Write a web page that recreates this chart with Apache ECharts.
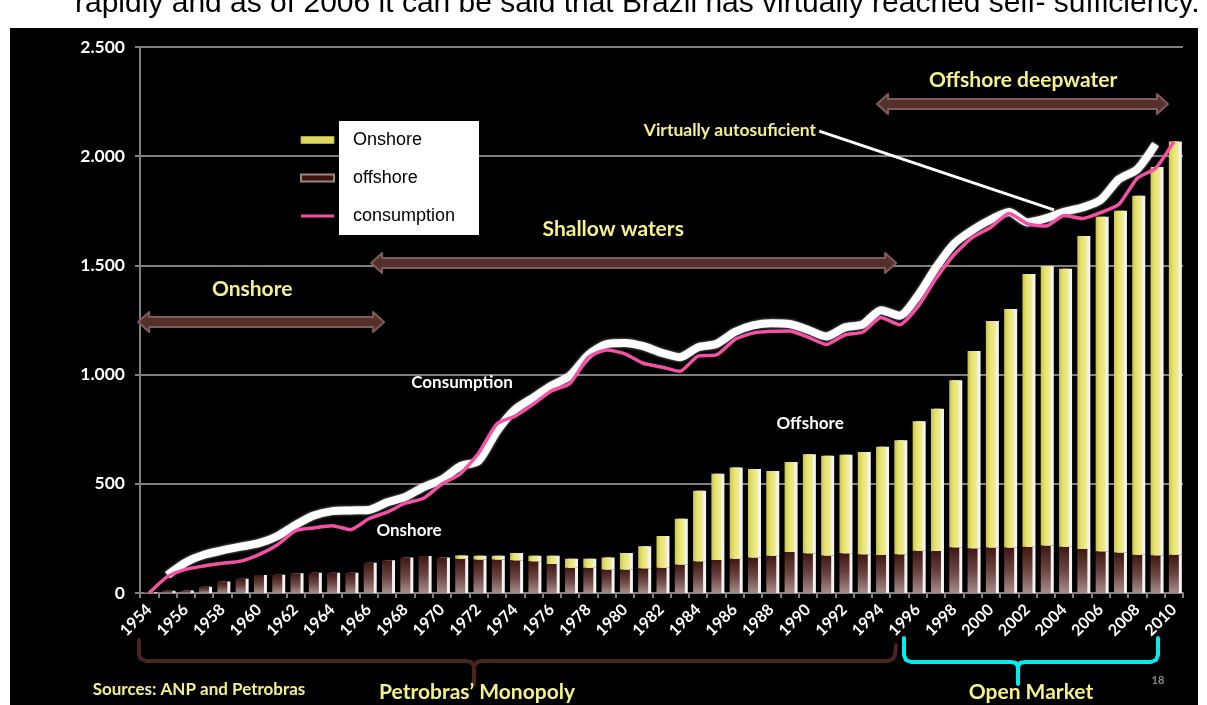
<!DOCTYPE html>
<html>
<head>
<meta charset="utf-8">
<script src="https://cdn.jsdelivr.net/npm/echarts@6/dist/echarts.min.js"></script>
<style>
  html, body { margin: 0; padding: 0; background: #fff; }
  #chart { width: 1207px; height: 705px; }
</style>
</head>
<body>
<div id="chart"></div>
<script>
// Brazilian oil production (onshore / offshore) and consumption, thousand barrels per day
const years = ['1954','1955','1956','1957','1958','1959','1960','1961','1962','1963',
  '1964','1965','1966','1967','1968','1969','1970','1971','1972','1973',
  '1974','1975','1976','1977','1978','1979','1980','1981','1982','1983',
  '1984','1985','1986','1987','1988','1989','1990','1991','1992','1993',
  '1994','1995','1996','1997','1998','1999','2000','2001','2002','2003',
  '2004','2005','2006','2007','2008','2009','2010'];

// lower (brown) stacked bars
const offshoreValues = [3, 10, 11, 29, 53, 65, 82, 84, 90, 93,
  93, 93, 139, 150, 162, 169, 163, 157, 153, 153,
  150, 145, 133, 116, 116, 108, 108, 113, 116, 130,
  145, 151, 157, 162, 171, 188, 182, 172, 182, 177,
  174, 177, 193, 192, 209, 205, 208, 208, 212, 217,
  212, 201, 191, 185, 175, 173, 175];

// upper (yellow) stacked bars
const onshoreValues = [0, 0, 0, 0, 0, 0, 0, 0, 0, 0,
  0, 0, 0, 0, 0, 0, 0, 15, 18, 18,
  33, 26, 38, 41, 41, 55, 75, 101, 145, 210,
  323, 395, 418, 406, 388, 412, 453, 457, 451, 469,
  496, 522, 593, 652, 765, 903, 1037, 1092, 1249, 1280,
  1273, 1434, 1532, 1565, 1644, 1778, 1892];

// pink line
const consumptionValues = [0, 75, 108, 124, 136, 146, 176, 220, 285, 298,
  308, 290, 340, 370, 411, 434, 499, 545, 640, 774,
  810, 865, 926, 960, 1079, 1113, 1095, 1052, 1035, 1015,
  1085, 1090, 1160, 1190, 1198, 1200, 1172, 1138, 1181, 1195,
  1262, 1228, 1310, 1440, 1550, 1628, 1675, 1738, 1690, 1680,
  1728, 1715, 1742, 1780, 1899, 1945, 2067];

// white line
const consumptionTrend = [null, 82, 140, 175, 195, 212, 228, 260, 312, 355,
  375, 378, 380, 415, 440, 485, 520, 580, 605, 740,
  840, 895, 950, 995, 1090, 1140, 1145, 1130, 1100, 1080,
  1125, 1140, 1195, 1225, 1235, 1232, 1205, 1175, 1215, 1230,
  1295, 1270, 1360, 1490, 1600, 1662, 1710, 1745, 1697, 1715,
  1745, 1765, 1800, 1895, 1940, 2055, null];

const yTickLabels = ['0', '500', '1.000', '1.500', '2.000', '2.500'];

const YELLOW_TXT = '#f4f08a';
const BOLD = 'Lato, "Open Sans", sans-serif';

const chart = echarts.init(document.getElementById('chart'));

const option = {
  backgroundColor: '#fff',
  animation: false,
  grid: { left: 140, right: 24, top: 47, bottom: 112 },
  legend: {
    orient: 'vertical',
    left: 300,
    top: 121,
    padding: 0,
    itemGap: 0,
    itemWidth: 33,
    itemHeight: 7,
    selectedMode: false,
    textStyle: {
      color: '#000',
      fontFamily: '"Liberation Sans", Arial, sans-serif',
      fontSize: 18,
      lineHeight: 18,
      height: 18,
      width: 102,
      backgroundColor: '#fff',
      padding: [10, 24, 10, 14]
    },
    data: [
      { name: 'Onshore', icon: 'rect', itemStyle: { color: '#dcd862', borderColor: '#a8a440', borderWidth: 1, shadowColor: 'transparent' } },
      { name: 'offshore', icon: 'rect', itemStyle: { color: '#3a1510', borderColor: '#a08480', borderWidth: 2, shadowColor: 'transparent' } },
      { name: 'consumption', icon: 'path://M0,0H33V3H0Z', itemStyle: { color: '#f550a5' } }
    ]
  },
  xAxis: {
    type: 'category',
    data: years,
    boundaryGap: true,
    axisLine: { lineStyle: { color: '#808080', width: 2 } },
    axisTick: { show: true, interval: 0, length: 5, lineStyle: { color: '#808080', width: 2 } },
    axisLabel: {
      interval: 1,
      rotate: 45,
      color: '#fff',
      fontFamily: BOLD,
      fontWeight: 'bold',
      fontSize: 16,
      margin: 14
    }
  },
  yAxis: {
    type: 'value',
    min: 0,
    max: 2500,
    interval: 500,
    axisLine: { show: true, lineStyle: { color: '#808080', width: 2 } },
    axisTick: { show: true, length: 5, lineStyle: { color: '#808080', width: 2 } },
    splitLine: { lineStyle: { color: '#7f7f7f', width: 2 } },
    axisLabel: {
      color: '#fff',
      fontFamily: BOLD,
      fontWeight: 'bold',
      fontSize: 17.5,
      margin: 15,
      formatter: v => yTickLabels[Math.round(v / 500)]
    }
  },
  series: [
    {
      name: 'offshore',
      type: 'bar',
      stack: 'prod',
      data: offshoreValues,
      barWidth: 10,
      itemStyle: {
        color: new echarts.graphic.LinearGradient(0, 0, 0, 1, [
          { offset: 0, color: '#3e1712' },
          { offset: 0.5, color: '#6a4440' },
          { offset: 1, color: '#a88c89' }
        ]),
        shadowColor: '#f2f2f2',
        shadowOffsetX: 3,
        shadowBlur: 0
      },
      z: 2
    },
    {
      name: 'Onshore',
      type: 'bar',
      stack: 'prod',
      data: onshoreValues,
      barWidth: 10,
      itemStyle: {
        color: new echarts.graphic.LinearGradient(0, 0, 1, 0, [
          { offset: 0, color: '#c8c44c' },
          { offset: 0.4, color: '#e6e26e' },
          { offset: 1, color: '#f0ee9c' }
        ]),
        shadowColor: '#f2f2f2',
        shadowOffsetX: 3,
        shadowBlur: 0
      },
      z: 2
    },
    {
      name: 'Consumption',
      type: 'line',
      data: consumptionTrend,
      smooth: 0.25,
      showSymbol: false,
      lineStyle: { color: '#ffffff', width: 8, shadowColor: 'rgba(255,255,255,0.6)', shadowBlur: 3 },
      z: 3
    },
    {
      name: 'consumption',
      type: 'line',
      data: consumptionValues,
      smooth: 0.2,
      showSymbol: false,
      lineStyle: { color: '#f550a5', width: 3.5 },
      z: 4
    }
  ]
};

chart.setOption(option);

// pixel position of a (fractional) year and a value on the chart's axes
function P(year, value) {
  const a = chart.convertToPixel({ gridIndex: 0 }, [0, value]);
  const b = chart.convertToPixel({ gridIndex: 0 }, [1, value]);
  return [a[0] + (b[0] - a[0]) * (year - 1954), a[1]];
}

function blockArrow(y0, y1, value) {
  const p0 = P(y0, value), p1 = P(y1, value);
  const x0 = p0[0], x1 = p1[0], y = p0[1];
  const hl = 11, sh = 5, hh = 10;
  return {
    type: 'polygon',
    z: 5,
    shape: { points: [
      [x0, y], [x0 + hl, y - hh], [x0 + hl, y - sh], [x1 - hl, y - sh], [x1 - hl, y - hh],
      [x1, y], [x1 - hl, y + hh], [x1 - hl, y + sh], [x0 + hl, y + sh], [x0 + hl, y + hh]
    ] },
    style: { fill: '#55302b', stroke: '#7e5c57', lineWidth: 2, lineJoin: 'round' }
  };
}

function label(text, pos, size, color, align) {
  return {
    type: 'text',
    z: 6,
    x: pos[0],
    y: pos[1],
    style: {
      text: text,
      fill: color,
      font: 'bold ' + size + 'px ' + BOLD,
      align: align || 'center',
      verticalAlign: 'middle'
    }
  };
}

function brace(points, color) {
  return {
    type: 'polyline', z: 6,
    shape: { points: points },
    style: { stroke: color, lineWidth: 4, fill: null, lineJoin: 'round', lineCap: 'round' }
  };
}

const pointerFrom = P(1990.62, 2115);
const pointerTo = P(2003.45, 1754);

chart.setOption({
  graphic: [
    // slide panel
    { type: 'rect', z: -10, silent: true, shape: { x: 10, y: 28, width: 1188, height: 677 }, style: { fill: '#000' } },
    {
      type: 'text', z: 6, x: 75, y: 4,
      style: {
        text: 'rapidly and as of 2006 it can be said that Brazil has virtually reached self- sufficiency.',
        fill: '#000', font: '30px "Liberation Sans", Arial, sans-serif',
        align: 'left', verticalAlign: 'middle'
      }
    },
    // period arrows
    blockArrow(1953.4, 1966.84, 1241),
    blockArrow(1966.13, 1994.82, 1511),
    blockArrow(1993.78, 2009.68, 2239),
    label('Onshore', P(1959.63, 1392), 21, YELLOW_TXT),
    label('Shallow waters', P(1979.36, 1667), 21, YELLOW_TXT),
    label('Offshore deepwater', P(2001.76, 2349), 21, YELLOW_TXT),
    label('Virtually autosuficient', P(1990.45, 2120), 17.5, YELLOW_TXT, 'right'),
    {
      type: 'line', z: 6,
      shape: { x1: pointerFrom[0], y1: pointerFrom[1], x2: pointerTo[0], y2: pointerTo[1] },
      style: { stroke: '#fff', lineWidth: 3 }
    },
    label('Consumption', P(1971.1, 962), 17, '#fff'),
    label('Onshore', P(1968.2, 288), 17, '#fff'),
    label('Offshore', P(1990.12, 778), 17, '#fff'),
    // era braces under the axis
    brace([[139, 640], [139, 655], [141, 659], [146, 661], [466, 661], [471, 662], [474, 666], [474, 684]], '#4a241f'),
    brace([[474, 666], [477, 662], [482, 661], [888, 661], [893, 659], [895, 655], [896, 645]], '#4a241f'),
    brace([[904, 638], [904, 655], [906, 660], [911, 662], [1011, 662], [1016, 663], [1018, 667], [1018, 684]], '#00eef2'),
    brace([[1018, 667], [1020, 663], [1025, 662], [1151, 662], [1156, 660], [1158, 655], [1158, 638]], '#00eef2'),
    label('Sources: ANP and Petrobras', [199, 690], 17, YELLOW_TXT),
    label('Petrobras\u2019 Monopoly', [477, 692], 21, YELLOW_TXT),
    label('Open Market', [1031, 692], 21, YELLOW_TXT),
    label('18', [1158, 680], 11, '#8a8a8a')
  ]
});
</script>
</body>
</html>
